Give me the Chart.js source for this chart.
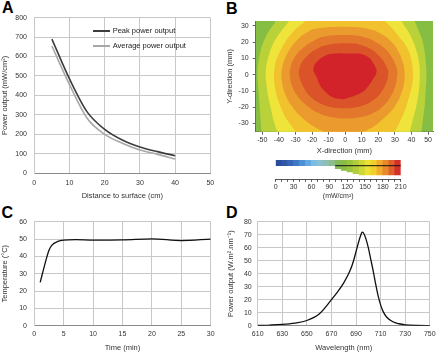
<!DOCTYPE html>
<html><head><meta charset="utf-8">
<script src="https://cdn.jsdelivr.net/npm/chart.js@4.4.1/dist/chart.umd.min.js"></script>
<style>
html,body{margin:0;padding:0;background:#fff;width:440px;height:353px;overflow:hidden;font-family:"Liberation Sans",Arial,sans-serif;position:relative;}
.lbl{position:absolute;font-weight:bold;font-size:16px;line-height:16px;color:#000;}
.legtxt{position:absolute;font-size:7.5px;line-height:9px;color:#222;white-space:nowrap;}
.legln{position:absolute;height:1.6px;}
</style></head><body>
<div class="lbl" style="left:2px;top:0px">A</div>
<div class="lbl" style="left:226px;top:1px">B</div>
<div class="lbl" style="left:1.5px;top:205px">C</div>
<div class="lbl" style="left:226px;top:205px">D</div>
<script>
// ---------- Panel A ----------
const seriesNamesA = ['Peak power output', 'Average power output'];
const distanceCm = [5, 10, 15, 20, 25, 30, 35, 40];
const peakPower = [690, 485, 315, 225, 170, 134, 110, 89];
const avgPower = [654, 455, 282, 199, 153, 118, 96, 72];

// ---------- Panel B (contour bands, outer boundary of each level, mm) ----------
const bXTicks = [-50, -40, -30, -20, -10, 0, 10, 20, 30, 40, 50];
const bYTicks = [-30, -20, -10, 0, 10, 20, 30];
const contourBackground = [[-54, 33], [53, 33], [53, -35], [-54, -35]];
const contourYellowGreen = [[-43,38],[-42,33],[-46,27],[-49,21],[-51,15],[-52.5,7],[-53,0],[-52.5,-7],[-52,-14],[-51.5,-21],[-51,-28],[-50.5,-35],[-50,-40],[0,-43],[45,-40],[46,-35],[47,-27],[48,-19],[48.5,-11],[49,-4],[49,3],[48.5,10],[47.5,17],[46,23],[44,28],[42,33],[41,38],[0,40]];
const contourYellow = [[-34,37],[-34,33],[-38.5,27],[-42.5,21],[-45.5,14],[-47.5,6],[-48,0],[-47.5,-6],[-46.5,-13],[-45,-20],[-43.5,-27],[-41,-35],[-40,-40],[0,-43],[38,-40],[39,-35],[41,-27],[43,-19],[44.5,-10],[45,-3],[45,4],[44,11],[42,18],[39.5,24],[36.5,29],[34,33],[33,37],[0,39]];
const contourGold = [[-24,37],[-24,33],[-30,28],[-35,22],[-39,15],[-42,8],[-43,0],[-42.5,-7],[-41,-14],[-38.5,-21],[-35.5,-27],[-32,-32],[-30,-35],[-28,-40],[0,-43],[28,-40],[30,-35],[33,-29],[36,-22],[38.5,-14],[40.5,-6],[41,0],[40.5,6],[39,13],[36,19],[32,24],[28,29],[24,33],[23,37],[0,39]];
const contourOrange = [[-20,28],[-10,29.3],[0,29.5],[10,29],[18,27],[25,23],[30,18],[33.5,11.5],[35.5,5],[36,-1],[35,-8],[32.5,-15],[28.5,-21.5],[23,-27],[17,-32],[10,-35.5],[0,-37],[-10,-36],[-17,-33],[-23,-29],[-28.5,-24],[-33.5,-17.5],[-37,-10],[-38.5,-2],[-38,5],[-35.5,12],[-31.5,18.5],[-26.5,24]];
const contourDarkOrange = [[-15,23],[-7,24.2],[0,24.4],[8,24],[15,22],[21,18.5],[26,14],[29.5,8.5],[31.5,2.5],[31,-4],[29,-10.5],[25.5,-16.5],[20.5,-21.5],[13.5,-25],[5,-26.7],[-4,-26.7],[-12.5,-25],[-20,-21.5],[-26,-16.5],[-30.5,-10.5],[-33,-4],[-33.5,2],[-32,8],[-28.5,13.5],[-23,18.5]];
const contourRedOrange = [[-14,17.5],[-7,19],[0,19.3],[7,19],[13,17],[18,14],[22,10],[24.5,6],[26,2],[25.5,-3],[23.5,-8],[20,-13],[15,-17],[9,-19.5],[2,-20.6],[-5,-20.5],[-12,-19],[-18,-16],[-22.5,-12],[-25.5,-7],[-27.5,-2],[-28,2],[-26.5,7],[-23.5,11],[-19.5,14.5]];
const contourRed = [[-15,10],[-10,12.5],[-4,13.2],[2,13],[8,13],[12,12],[15,10],[17,7],[19,3],[18.5,0],[16,-4],[14,-7],[12,-9.5],[8,-12],[4,-13.5],[-1,-15],[-6,-14.5],[-10,-12.5],[-13.5,-9],[-15.5,-6],[-17,-2],[-19,2],[-19,5],[-17.5,7.5]];

// colour scale
const colorbarLevels = ['0','10','20','30','40','50','60','70','80','90','100','110','120','130','140','150','160','170','180','190','200'];
const colorbarColors = ['#2b4c9b','#2e58a6','#3666b5','#3f78c5','#4c8fd4','#63a8df','#7cbbe2','#8bc0cf','#8fbfb0','#8dbd8a','#86ba5a','#89bc41','#9ac43b','#b2cd39','#cdd836','#ebe233','#f3cf2d','#efad2b','#e8892b','#df622a','#d42f29'];
const colorbarDepth = [null,null,null,null,null,null,null,null,null,null,-0.53,-0.81,-1.1,-1.4,-1.63,-1.63,-1.63,-1.63,-1.63,-1.63,-1.63];
const colorbarTicks = [0, 30, 60, 90, 120, 150, 180, 210];
const colorbarLineRange = [100, 210];

// ---------- Panel C ----------
const timeMin = [1, 2, 2.5, 3, 4, 5, 7, 10, 15, 20, 25, 30];
const temperature = [25, 38, 43.5, 46.5, 48.6, 49.4, 49.7, 49.4, 49.5, 50.1, 49.1, 50.0];

// ---------- Panel D ----------
const wavelength = [610, 620, 630, 640, 650, 660, 670, 675, 680, 685, 688, 690, 692, 694, 695, 696, 698, 700, 702, 704, 706, 708, 710, 712, 715, 720, 725, 730, 740, 750];
const spectrum = [0.2, 0.5, 1, 2, 4, 9, 20, 26, 33, 42, 50, 57, 64, 70, 72, 71.5, 67, 60, 51, 42, 32, 23, 16, 11, 6.5, 3, 1.5, 0.7, 0.2, 0.1];

// ================= drawing =================
Chart.defaults.font.family = "'Liberation Sans', Arial, sans-serif";
Chart.defaults.color = '#333';
Chart.defaults.animation = false;
Chart.defaults.events = [];
Chart.defaults.plugins.legend.display = false;
Chart.defaults.plugins.tooltip.enabled = false;
Chart.defaults.elements.point.radius = 0;

function mkCanvas(left, top, w, h) {
  const c = document.createElement('canvas');
  c.style.cssText = 'position:absolute;left:' + left + 'px;top:' + top + 'px;width:' + w + 'px;height:' + h + 'px';
  c.width = w; c.height = h;
  document.body.appendChild(c);
  return c;
}
const pts = (xs, ys) => xs.map((x, i) => ({x: x, y: ys[i]}));
const poly = arr => arr.map(p => ({x: p[0], y: p[1]}));
const GRID = '#c8c8c8';

// ---- A ----
const colorsA = ['#3d3d3d', '#a8a8a8'];
new Chart(mkCanvas(0, 0, 220, 205), {
  type: 'line',
  data: {datasets: [
    {label: seriesNamesA[0], data: pts(distanceCm, peakPower), borderColor: colorsA[0], borderWidth: 1.6, cubicInterpolationMode: 'monotone'},
    {label: seriesNamesA[1], data: pts(distanceCm, avgPower), borderColor: colorsA[1], borderWidth: 1.6, cubicInterpolationMode: 'monotone'}
  ]},
  options: {
    responsive: false, devicePixelRatio: 1,
    layout: {padding: {left: 0, top: 17.7, right: 9.3, bottom: 0}},
    scales: {
      x: {type: 'linear', min: 0, max: 50, ticks: {stepSize: 10, padding: 5.8, font: {size: 7}},
          grid: {color: GRID, drawTicks: false}, border: {color: '#8a8a8a'},
          title: {display: true, text: 'Distance to surface (cm)', font: {size: 7.5}, padding: {top: 0, bottom: 4.5}},
          afterFit: s => { s.height = 32; }},
      y: {type: 'linear', min: 0, max: 800, ticks: {stepSize: 100, padding: 7.3, font: {size: 7}},
          grid: {color: GRID, drawTicks: false}, border: {color: GRID},
          title: {display: true, text: 'Power output (mW/cm²)', font: {size: 7.5}, padding: {top: 0.5, bottom: 0}},
          afterFit: s => { s.width = 34.3; }}
    }
  }
});
// legend A built from dataset labels
[[seriesNamesA[0], colorsA[0], 31], [seriesNamesA[1], colorsA[1], 46]].forEach(function (it) {
  const ln = document.createElement('div'); ln.className = 'legln';
  ln.style.cssText += 'left:92.7px;width:17.3px;top:' + (it[2] - 0.8) + 'px;background:' + it[1];
  document.body.appendChild(ln);
  const t = document.createElement('div'); t.className = 'legtxt';
  t.style.left = '112.7px'; t.style.top = (it[2] - 4.7) + 'px'; t.textContent = it[0];
  document.body.appendChild(t);
});

// ---- B heat map ----
const bands = [
  [contourRed, '#d2232a'], [contourRedOrange, '#db5328'], [contourDarkOrange, '#e3772b'],
  [contourOrange, '#eb9b2d'], [contourGold, '#f2c22e'], [contourYellow, '#eee43a'],
  [contourYellowGreen, '#b9d23a'], [contourBackground, '#86bd43']
];
const AX = '#666';
new Chart(mkCanvas(220, 0, 220, 156), {
  type: 'line',
  data: {datasets: bands.map(b => ({data: poly(b[0]), fill: 'shape', backgroundColor: b[1], borderWidth: 0, pointRadius: 0, tension: 0.2}))},
  options: {
    responsive: false, devicePixelRatio: 1,
    layout: {padding: {left: 0, top: 21, right: 7, bottom: 0}},
    scales: {
      x: {type: 'linear', min: -54, max: 53, afterBuildTicks: s => { s.ticks = bXTicks.map(v => ({value: v})); },
          ticks: {padding: 1, font: {size: 7}, autoSkip: false},
          grid: {drawOnChartArea: false, tickLength: 3, color: AX}, border: {color: AX},
          title: {display: true, text: 'X-direction (mm)', font: {size: 7.5}, padding: {top: 0, bottom: 0.8}},
          afterFit: s => { s.height = 24.3; }},
      y: {type: 'linear', min: -35, max: 33, afterBuildTicks: s => { s.ticks = bYTicks.map(v => ({value: v})); },
          ticks: {padding: 4, font: {size: 7}, autoSkip: false},
          grid: {drawOnChartArea: false, tickLength: 3, color: AX}, border: {color: AX},
          title: {display: true, text: 'Y-direction (mm)', font: {size: 7.5}, padding: {top: 5.5, bottom: 0}},
          afterFit: s => { s.width = 35.7; }}
    }
  }
});

// ---- B colour bar ----
new Chart(mkCanvas(262, 156, 150, 45), {
  type: 'bar',
  data: {labels: colorbarLevels, datasets: [
    {type: 'line', data: colorbarLineRange.map(v => ({x: v, y: 0})), xAxisID: 'x', borderColor: '#111', borderWidth: 1, pointRadius: 0},
    {data: colorbarLevels.map(() => [0, 1]), xAxisID: 'xc', backgroundColor: colorbarColors, categoryPercentage: 1, barPercentage: 1, grouped: false},
    {data: colorbarDepth.map(d => d === null ? null : [d, 0]), xAxisID: 'xc', backgroundColor: colorbarColors, categoryPercentage: 1, barPercentage: 1, grouped: false}
  ]},
  options: {
    responsive: false, devicePixelRatio: 1,
    layout: {padding: {left: 13.7, top: 4, right: 11.3, bottom: 0}},
    scales: {
      xc: {type: 'category', display: false, offset: true, grid: {offset: true}},
      x: {type: 'linear', position: 'bottom', min: 0, max: 210, offset: false,
          ticks: {stepSize: 10, autoSkip: false, maxRotation: 0, padding: 1, font: {size: 7},
                  callback: v => colorbarTicks.includes(v) ? String(v) : ''},
          grid: {drawOnChartArea: false, tickLength: 2.5, color: '#555', offset: false}, border: {color: '#555'},
          title: {display: true, text: '(mW/cm²)', font: {size: 7}, padding: {top: 0, bottom: 1}},
          afterFit: s => { s.height = 21.7; }},
      y: {type: 'linear', display: false, min: -2.386, max: 1}
    }
  }
});

// ---- C ----
new Chart(mkCanvas(0, 200, 220, 153), {
  type: 'line',
  data: {datasets: [{label: 'Temperature', data: pts(timeMin, temperature), borderColor: '#111', borderWidth: 1.3, cubicInterpolationMode: 'monotone'}]},
  options: {
    responsive: false, devicePixelRatio: 1,
    layout: {padding: {left: 0, top: 21.7, right: 9.3, bottom: 0}},
    scales: {
      x: {type: 'linear', min: 0, max: 30, ticks: {stepSize: 5, padding: 4.4, font: {size: 7}},
          grid: {color: GRID, drawTicks: false}, border: {color: '#8a8a8a'},
          title: {display: true, text: 'Time (min)', font: {size: 7.5}, padding: {top: 0, bottom: 0.8}},
          afterFit: s => { s.height = 27.3; }},
      y: {type: 'linear', min: 0, max: 60, ticks: {stepSize: 10, padding: 7.3, font: {size: 7}},
          grid: {color: GRID, drawTicks: false}, border: {color: GRID},
          title: {display: true, text: 'Temperature (°C)', font: {size: 7.5}, padding: {top: 0.5, bottom: 0}},
          afterFit: s => { s.width = 34.3; }}
    }
  }
});

// ---- D ----
new Chart(mkCanvas(220, 200, 220, 153), {
  type: 'line',
  data: {datasets: [{label: 'Spectrum', data: pts(wavelength, spectrum), borderColor: '#111', borderWidth: 1.3, cubicInterpolationMode: 'monotone'}]},
  options: {
    responsive: false, devicePixelRatio: 1,
    layout: {padding: {left: 0, top: 21.7, right: 6, bottom: 0}},
    scales: {
      x: {type: 'linear', min: 610, max: 750, ticks: {stepSize: 20, padding: 4.4, font: {size: 7}},
          grid: {color: GRID, drawTicks: false}, border: {color: '#8a8a8a'},
          title: {display: true, text: 'Wavelength (nm)', font: {size: 7.5}, padding: {top: 0, bottom: 0.8}},
          afterFit: s => { s.height = 27.3; }},
      y: {type: 'linear', min: 0, max: 80, ticks: {stepSize: 10, padding: 6, font: {size: 7}},
          grid: {color: GRID, drawTicks: false}, border: {color: GRID},
          title: {display: true, text: 'Power output (W.m².nm⁻¹)', font: {size: 7.5}, padding: {top: 6.5, bottom: 0}},
          afterFit: s => { s.width = 37.7; }}
    }
  }
});
</script>
</body></html>
